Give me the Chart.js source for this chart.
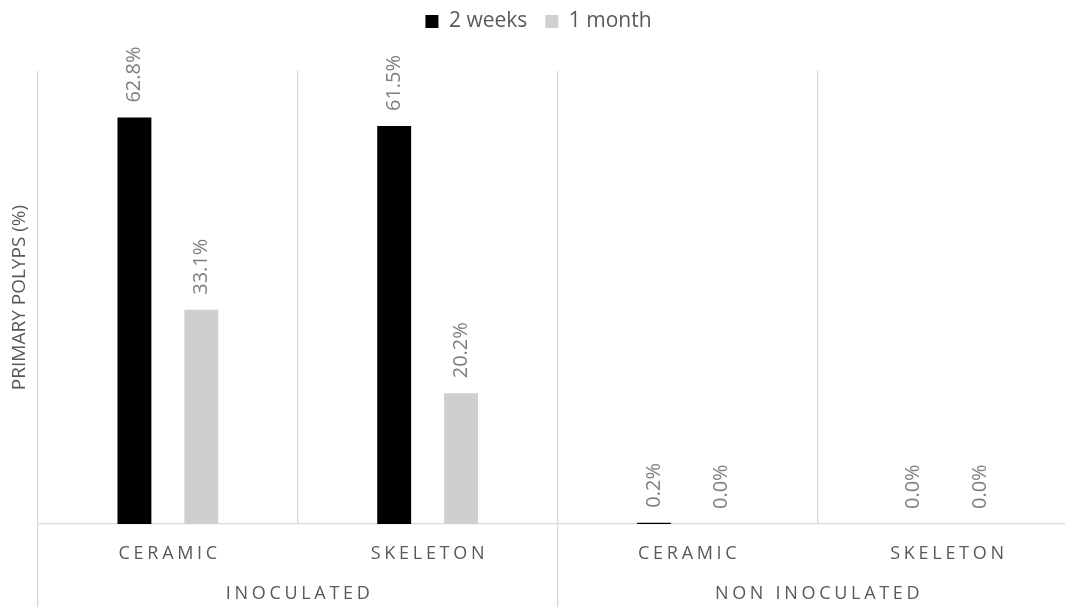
<!DOCTYPE html>
<html>
<head>
<meta charset="utf-8">
<script src="https://cdn.jsdelivr.net/npm/chart.js@4"></script>
<style>
  html, body { margin: 0; padding: 0; background: #fff; overflow: hidden; }
  #wrap { width: 1065px; height: 607px; overflow: hidden; }
</style>
</head>
<body>
<div id="wrap"><canvas id="myChart" width="1077" height="607"></canvas></div>
<script>
const categories = ['CERAMIC', 'SKELETON', 'CERAMIC', 'SKELETON'];
const groups = ['INOCULATED', 'NON INOCULATED'];
const seriesNames = ['2 weeks', '1 month'];
const twoWeeks = [62.8, 61.5, 0.2, 0.0];
const oneMonth = [33.1, 20.2, 0.0, 0.0];

const textGrey = '#595959';
const gridGrey = '#d9d9d9';
const fontFam = '"Open Sans", "Liberation Sans", sans-serif';

// labels above bars and the two-level category axis
const labelPlugin = {
  id: 'labelPlugin',
  beforeInit(chart) {
    const fit = chart.legend.fit;
    chart.legend.fit = function () {
      fit.call(this);
      this.height = 78;
    };
  },
  afterDatasetsDraw(chart) {
    const ctx = chart.ctx;
    ctx.save();
    ctx.font = '20px ' + fontFam;
    ctx.fillStyle = '#7f7f7f';
    ctx.textAlign = 'left';
    ctx.textBaseline = 'middle';
    chart.data.datasets.forEach((ds, di) => {
      const meta = chart.getDatasetMeta(di);
      meta.data.forEach((bar, i) => {
        ctx.save();
        ctx.translate(bar.x, bar.y - 15);
        ctx.rotate(-Math.PI / 2);
        ctx.fillText(ds.data[i].toFixed(1) + '%', 0, 0);
        ctx.restore();
      });
    });
    ctx.restore();
  },
  afterDraw(chart) {
    const ctx = chart.ctx;
    const xs = chart.scales.x;
    const spaced = (txt, cx, cy, sp) => {
      ctx.letterSpacing = sp + 'px';
      const w = ctx.measureText(txt).width;
      ctx.fillText(txt, cx - (w - sp) / 2, cy);
    };
    ctx.save();
    ctx.fillStyle = textGrey;
    ctx.textAlign = 'left';
    ctx.textBaseline = 'middle';
    ctx.font = '18px ' + fontFam;
    categories.forEach((c, i) => {
      spaced(c, xs.getPixelForValue(i), 554, 3.7);
    });
    groups.forEach((g, gi) => {
      const cx = (xs.getPixelForValue(gi * 2) + xs.getPixelForValue(gi * 2 + 1)) / 2;
      spaced(g, cx, 594, 3.7);
    });
    ctx.letterSpacing = '0px';
    ctx.restore();
  }
};

const ctx = document.getElementById('myChart').getContext('2d');
new Chart(ctx, {
  type: 'bar',
  data: {
    labels: categories,
    datasets: [
      { label: seriesNames[0], data: twoWeeks, backgroundColor: '#000000' },
      { label: seriesNames[1], data: oneMonth, backgroundColor: '#d0cece' }
    ]
  },
  options: {
    responsive: false,
    animation: false,
    devicePixelRatio: 1,
    layout: { padding: { top: -7, left: 0, right: 0, bottom: 0 } },
    datasets: {
      bar: { categoryPercentage: 0.515, barPercentage: 0.507 }
    },
    plugins: {
      tooltip: { enabled: false },
      legend: {
        position: 'top',
        labels: {
          boxWidth: 13,
          boxHeight: 13,
          padding: 18,
          color: textGrey,
          font: { family: fontFam, size: 21 }
        }
      }
    },
    scales: {
      x: {
        offset: true,
        grid: {
          offset: true,
          color: gridGrey,
          lineWidth: 1.3,
          tickLength: 83,
          tickColor: (c) => (c.index === 1 || c.index === 3) ? 'rgba(0,0,0,0)' : gridGrey
        },
        border: { display: true, color: gridGrey, width: 1.3 },
        ticks: { display: false },
        afterFit: (s) => { s.height = 83; }
      },
      y: {
        min: 0,
        max: 70,
        grid: { display: false },
        border: { display: false },
        ticks: { display: false },
        title: {
          display: true,
          text: 'PRIMARY POLYPS (%)',
          color: textGrey,
          font: { family: fontFam, size: 19 },
          padding: { top: 8, bottom: 0 }
        },
        afterFit: (s) => { s.width = 38; }
      }
    }
  },
  plugins: [labelPlugin]
});
</script>
</body>
</html>
